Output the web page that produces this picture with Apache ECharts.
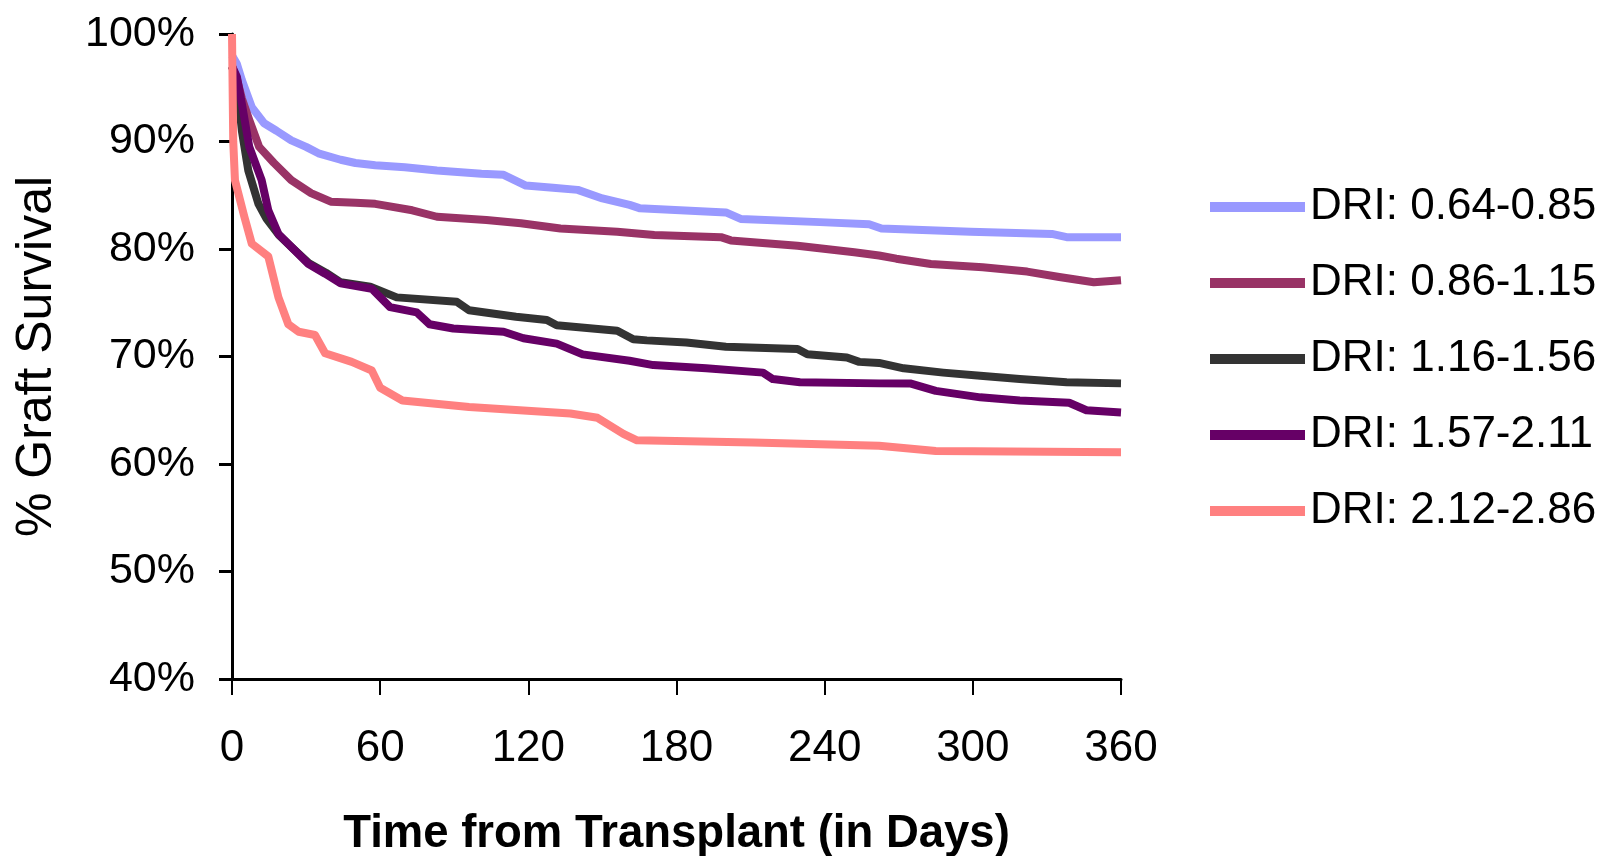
<!DOCTYPE html>
<html>
<head>
<meta charset="utf-8">
<script src="https://cdn.jsdelivr.net/npm/echarts@6/dist/echarts.min.js"></script>
<style>
html,body{margin:0;padding:0;background:#fff;}
#chart{width:1609px;height:856px;}
</style>
</head>
<body>
<div id="chart"></div>
<script>
const seriesNames = ['DRI: 0.64-0.85','DRI: 0.86-1.15','DRI: 1.16-1.56','DRI: 1.57-2.11','DRI: 2.12-2.86'];
const seriesColors = ['#9999FF','#993366','#333333','#660066','#FF8080'];
const xTicks = [0,60,120,180,240,300,360];
const yTicks = [40,50,60,70,80,90,100];

const blueDays = [0,2,4,8,13,18,24,30,35,44,50,58,70,83,101,110,119,130,140,150,161,165,200,206,238,258,263,299,332,338,360];
const blueVals = [98,97.2,95.7,93.2,91.7,91.0,90.1,89.5,88.9,88.3,88.0,87.8,87.6,87.3,87.0,86.9,85.9,85.7,85.5,84.7,84.1,83.8,83.4,82.8,82.5,82.3,81.9,81.6,81.4,81.1,81.1];

const maroonDays = [0,2,4,7,11,17,24,32,40,50,58,73,83,103,117,133,156,171,198,202,229,252,262,269,283,304,322,335,349,360];
const maroonVals = [97,95.8,94,92,89.5,88.0,86.4,85.2,84.4,84.3,84.2,83.6,83.0,82.7,82.4,81.9,81.6,81.3,81.1,80.8,80.3,79.7,79.4,79.1,78.6,78.3,77.9,77.4,76.9,77.1];

const blackDays = [0,2,4,6.6,10.7,14,19,24,31,38,44,56,66.7,91,96,115,127.5,131.5,156,162.5,168,184,200,229,233,249,254,262,272,288,303,319,338,360];
const blackVals = [97,95.5,91,87.3,84.2,82.8,81.3,80.2,78.7,77.8,76.9,76.5,75.5,75.1,74.3,73.7,73.4,72.9,72.4,71.6,71.5,71.3,70.9,70.7,70.2,69.9,69.5,69.4,68.9,68.5,68.2,67.9,67.6,67.5];

const purpleDays = [0,2,4,7,12,14.7,18.8,24,31,37.7,44,56.6,64,74.8,80,89.6,110,118,131.5,142,161,170.6,192,215,219,230,262,274.6,285,303,319,339,346,360];
const purpleVals = [97,96,93.5,89.5,86.4,83.6,81.4,80.2,78.6,77.7,76.8,76.3,74.6,74.1,73.0,72.6,72.3,71.7,71.2,70.2,69.6,69.2,68.9,68.5,67.9,67.6,67.5,67.5,66.8,66.2,65.9,65.7,65.0,64.8];

const pinkDays = [0,0.5,1.2,5,8,14.7,18.8,22.8,27,33.6,37.7,48.5,56.6,60,69,96,137,148,158.5,164,211,262,285,360];
const pinkVals = [100,90,86.4,83.0,80.5,79.3,75.5,73.0,72.3,72.0,70.3,69.5,68.7,67.1,65.9,65.3,64.7,64.3,62.8,62.2,62.0,61.7,61.2,61.1];

const allDays = [blueDays, maroonDays, blackDays, purpleDays, pinkDays];
const allVals = [blueVals, maroonVals, blackVals, purpleVals, pinkVals];

const FONT = 'Liberation Sans, Arial, sans-serif';

const chart = echarts.init(document.getElementById('chart'), null, {renderer:'canvas'});
const series = seriesNames.map((name, i) => ({
  name: name,
  type: 'line',
  data: allDays[i].map((d, k) => [d, allVals[i][k]]),
  showSymbol: false,
  symbol: 'none',
  lineStyle: {color: seriesColors[i], width: 8, cap: 'butt', join: 'round'},
  itemStyle: {color: seriesColors[i]},
  animation: false,
  z: 2 + i
}));

chart.setOption({
  backgroundColor: '#ffffff',
  animation: false,
  grid: {left: 232, right: 488, top: 34, bottom: 177, containLabel: false, outerBoundsMode: 'none'},
  legend: {
    orient: 'vertical',
    left: 1205,
    top: 177,
    itemWidth: 95,
    itemHeight: 10,
    itemGap: 26,
    icon: 'rect',
    data: seriesNames,
    textStyle: {fontFamily: FONT, fontSize: 44, color: '#000', lineHeight: 50}
  },
  xAxis: {
    type: 'value',
    min: 0, max: 360, interval: 60,
    name: 'Time from Transplant (in Days)',
    nameLocation: 'middle',
    nameGap: 132,
    nameTextStyle: {fontFamily: FONT, fontSize: 45.5, fontWeight: 'bold', color: '#000', lineHeight: 46},
    axisLine: {show: true, lineStyle: {color: '#000', width: 3}},
    axisTick: {show: true, length: 16, lineStyle: {color: '#000', width: 2}},
    axisLabel: {
      fontFamily: FONT, fontSize: 44, color: '#000', margin: 48, lineHeight: 44,
      formatter: v => xTicks.includes(v) ? String(v) : ''
    },
    splitLine: {show: false}
  },
  yAxis: {
    type: 'value',
    min: 40, max: 100, interval: 10,
    name: '% Graft Survival',
    nameLocation: 'middle',
    nameGap: 170,
    nameRotate: 90,
    nameTextStyle: {fontFamily: FONT, fontSize: 50, color: '#000', lineHeight: 50},
    axisLine: {show: true, lineStyle: {color: '#000', width: 3}},
    axisTick: {show: true, length: 13, lineStyle: {color: '#000', width: 3}},
    axisLabel: {
      fontFamily: FONT, fontSize: 43, color: '#000', margin: 37,
      formatter: v => yTicks.includes(v) ? v + '%' : ''
    },
    splitLine: {show: false}
  },
  series: series
});
</script>
</body>
</html>
